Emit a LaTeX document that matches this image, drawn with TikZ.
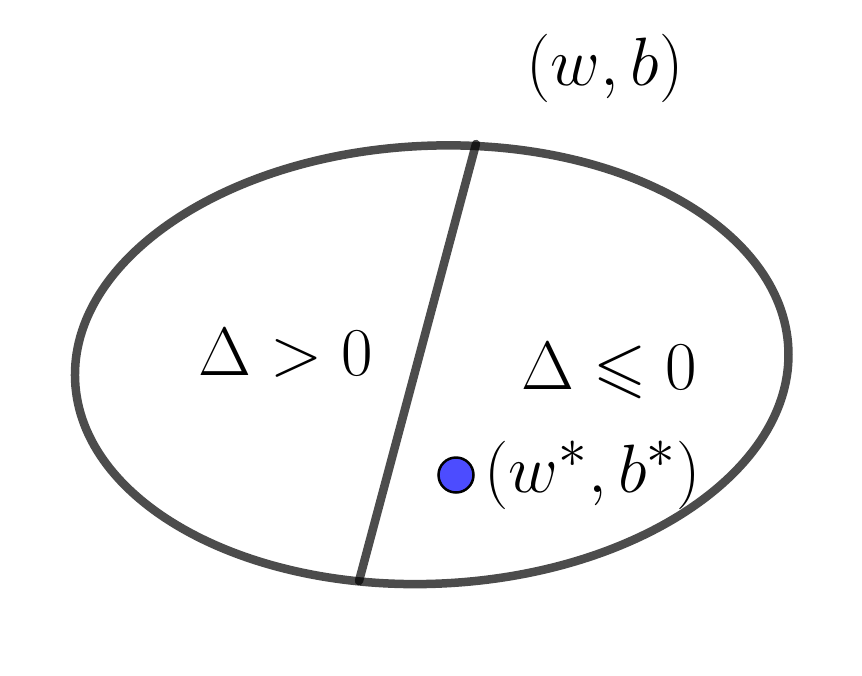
\documentclass[tikz,border=0pt]{standalone}
\usepackage{amssymb}
\begin{document}
\begin{tikzpicture}[x=1pt,y=-1pt,
  ring/.style={draw=black,draw opacity=0.7,line width=8.5pt,line cap=round},
  lbl/.style={inner sep=0pt,scale=2.75,font=\Huge},
  dot/.style={circle,fill=blue!70,draw=black,line width=2.5pt,minimum size=35pt,inner sep=0pt}]
\useasboundingbox (0,0) rectangle (862,675);
\coordinate (c) at (431.75,364.75);
\draw[ring,rotate around={2.6:(c)}] (c) ellipse [x radius=357, y radius=219];
\coordinate (top) at (476,144);
\coordinate (bot) at (359,581);
\draw[ring] (top) -- (bot);
\node[lbl,anchor=base] (wb) at (605,85) {$(w,b)$};
\node[lbl,anchor=base] (pos) at (286,375) {$\Delta>0$};
\node[lbl,anchor=base] (neg) at (609,389) {$\Delta\leqslant 0$};
\node[dot] (opt) at (456,475) {};
\node[lbl,anchor=base west] (optl) at (484,492) {$(w^*,b^*)$};
\end{tikzpicture}
\end{document}
